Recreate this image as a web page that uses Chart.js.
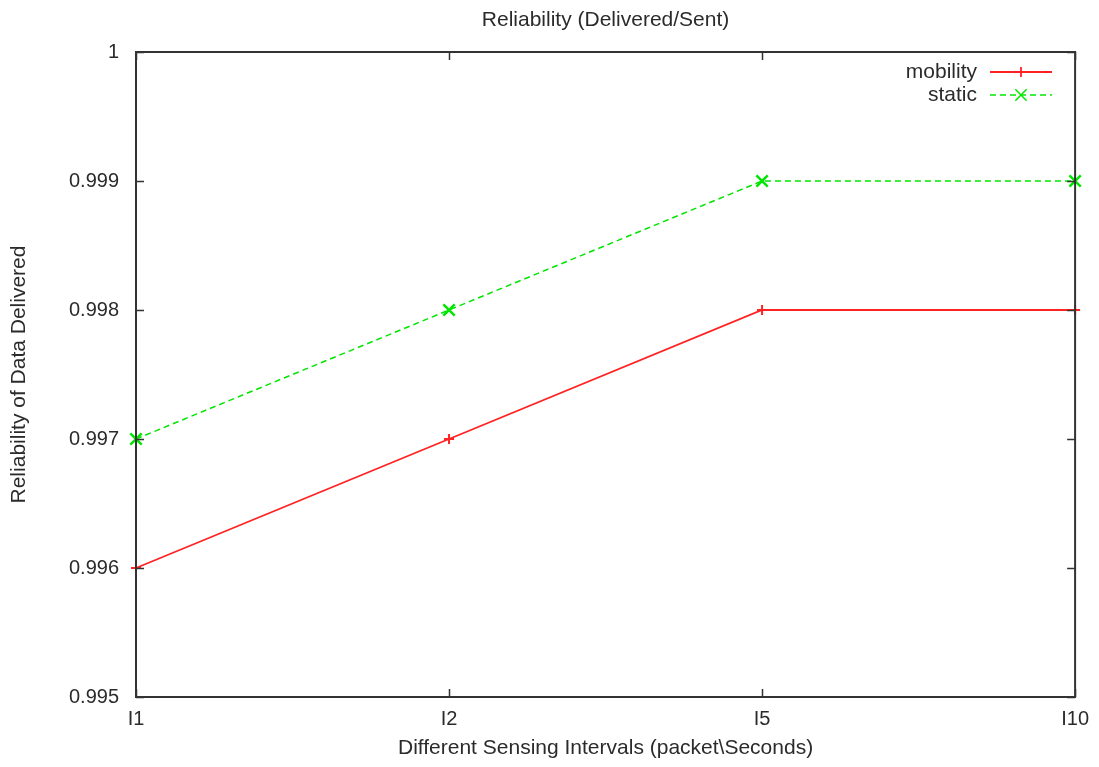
<!DOCTYPE html>
<html>
<head>
<meta charset="utf-8">
<title>Reliability (Delivered/Sent)</title>
<script src="https://cdn.jsdelivr.net/npm/chart.js@4/dist/chart.umd.min.js"></script>
<style>
  html, body { margin: 0; padding: 0; background: #fff; }
  #wrap { width: 1099px; height: 767px; }
</style>
</head>
<body>
<div id="wrap"><canvas id="relChart" width="1099" height="767"></canvas></div>
<script>
// sensing intervals and delivery ratios
const intervals = ['I1', 'I2', 'I5', 'I10']
const mobility = [0.996, 0.997, 0.998, 0.998]
const staticNodes = [0.997, 0.998, 0.999, 0.999]
const yTicks = [0.995, 0.996, 0.997, 0.998, 0.999, 1]

const FONT = 'Liberation Sans, Arial, Helvetica, sans-serif'
const TEXT = '#2b2b2b'
const FRAME = '#333333'

// gnuplot-like frame: border, inward ticks (mirrored), title and key
const frameBox = {
  id: 'frameBox',
  afterDatasetsDraw(chart) {
    const { ctx, chartArea: a, scales } = chart
    const tl = 8
    ctx.save()
    ctx.strokeStyle = FRAME
    ctx.lineWidth = 1.5
    ctx.beginPath()
    scales.x.ticks.forEach((t, i) => {
      const px = Math.round(scales.x.getPixelForTick(i)) + 0.5
      ctx.moveTo(px, a.bottom); ctx.lineTo(px, a.bottom - tl)
      ctx.moveTo(px, a.top); ctx.lineTo(px, a.top + tl)
    })
    scales.y.ticks.forEach((t, i) => {
      const py = Math.round(scales.y.getPixelForTick(i)) + 0.5
      ctx.moveTo(a.left, py); ctx.lineTo(a.left + tl, py)
      ctx.moveTo(a.right, py); ctx.lineTo(a.right - tl, py)
    })
    ctx.stroke()

    ctx.lineWidth = 2
    ctx.strokeRect(a.left, a.top, a.right - a.left, a.bottom - a.top)

    // title
    ctx.fillStyle = TEXT
    ctx.font = '21px ' + FONT
    ctx.textAlign = 'center'
    ctx.textBaseline = 'middle'
    ctx.fillText('Reliability (Delivered/Sent)', (a.left + a.right) / 2, 20)

    // key, text first then line sample
    chart.data.datasets.forEach((ds, i) => {
      const y = 72 + i * 23
      const x0 = 990, x1 = 1052
      ctx.fillStyle = TEXT
      ctx.textAlign = 'right'
      ctx.fillText(ds.label, 977, y)
      ctx.strokeStyle = ds.borderColor
      ctx.lineWidth = ds.borderWidth
      ctx.setLineDash(ds.borderDash || [])
      ctx.beginPath()
      ctx.moveTo(x0, y); ctx.lineTo(x1, y)
      ctx.stroke()
      ctx.setLineDash([])
      Chart.helpers.drawPoint(ctx, {
        pointStyle: ds.pointStyle,
        radius: ds.pointRadius,
        rotation: 0,
        borderWidth: ds.pointBorderWidth
      }, (x0 + x1) / 2, y)
    })
    ctx.restore()
  }
}

new Chart(document.getElementById('relChart'), {
  type: 'line',
  data: {
    labels: intervals,
    datasets: [{
      label: 'mobility',
      data: mobility,
      borderColor: '#ff2222',
      backgroundColor: '#ff2222',
      borderWidth: 1.8,
      pointStyle: 'cross',
      pointRadius: 5,
      pointBorderWidth: 2,
      tension: 0,
      clip: false
    }, {
      label: 'static',
      data: staticNodes,
      borderColor: '#00e600',
      backgroundColor: '#00e600',
      borderWidth: 1.5,
      borderDash: [6, 4],
      pointStyle: 'crossRot',
      pointRadius: 8,
      pointBorderWidth: 2.5,
      tension: 0,
      clip: false
    }]
  },
  options: {
    responsive: false,
    animation: false,
    devicePixelRatio: 1,
    layout: { padding: { top: 52, right: 21, bottom: 0, left: 0 } },
    plugins: {
      legend: { display: false },
      title: { display: false },
      tooltip: { enabled: false }
    },
    scales: {
      x: {
        type: 'category',
        offset: false,
        afterFit(scale) { scale.height = 70 },
        grid: { display: false, drawTicks: false },
        border: { display: false },
        ticks: { color: TEXT, font: { family: FONT, size: 20 }, padding: 10, maxRotation: 0 },
        title: {
          display: true,
          text: 'Different Sensing Intervals (packet\\Seconds)',
          color: TEXT,
          font: { family: FONT, size: 21 },
          padding: { top: 0, bottom: 6 }
        }
      },
      y: {
        min: yTicks[0],
        max: yTicks[yTicks.length - 1],
        afterFit(scale) { scale.width = 136 },
        afterBuildTicks(scale) { scale.ticks = yTicks.map(v => ({ value: v })) },
        grid: { display: false, drawTicks: false },
        border: { display: false },
        ticks: {
          color: TEXT,
          font: { family: FONT, size: 20 },
          padding: 17,
          callback: v => String(Number(v.toFixed(3)))
        },
        title: {
          display: true,
          text: 'Reliability of Data Delivered',
          color: TEXT,
          font: { family: FONT, size: 21 },
          padding: { top: 7, bottom: 0 }
        }
      }
    }
  },
  plugins: [frameBox]
})
</script>
</body>
</html>
